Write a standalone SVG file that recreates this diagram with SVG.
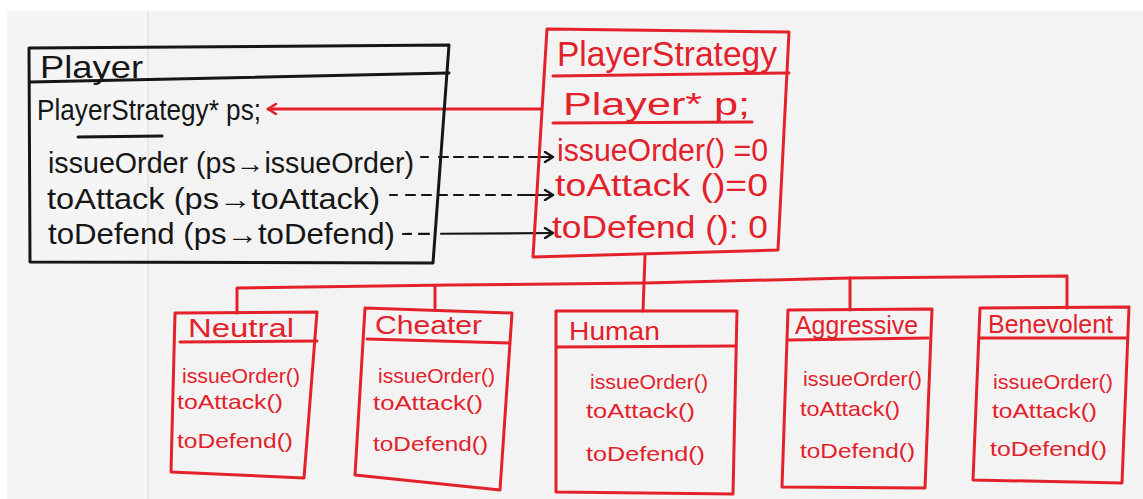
<svg xmlns="http://www.w3.org/2000/svg" width="1143" height="499" viewBox="0 0 1143 499">
<style>
.bk{fill:none;stroke:#161616;stroke-width:3;stroke-linejoin:round;stroke-linecap:round}
.rd{fill:none;stroke:#e3212b;stroke-width:3;stroke-linejoin:round;stroke-linecap:round}
.tb{font-family:"Liberation Sans","DejaVu Sans",sans-serif;fill:#161616}
.tr{font-family:"Liberation Sans","DejaVu Sans",sans-serif;fill:#e3212b}
.m{font-size:21px}
.h{font-size:26px}
</style>
<defs>
<marker id="ab" viewBox="0 0 12 12" refX="10" refY="6" markerWidth="12" markerHeight="12" markerUnits="userSpaceOnUse" orient="auto">
<path d="M2,1 L10,6 L2,11" fill="none" stroke="#161616" stroke-width="2.4" stroke-linecap="round" stroke-linejoin="round"/>
</marker>
<marker id="ar" viewBox="0 0 12 12" refX="10" refY="6" markerWidth="12" markerHeight="12" markerUnits="userSpaceOnUse" orient="auto">
<path d="M2,1 L10,6 L2,11" fill="none" stroke="#e3212b" stroke-width="2.6" stroke-linecap="round" stroke-linejoin="round"/>
</marker>
</defs>
<rect x="0" y="0" width="1143" height="499" fill="#ffffff"/>
<rect x="7" y="11" width="1136" height="488" fill="#f5f5f5"/>
<rect x="148" y="11" width="995" height="488" fill="#f3f3f3"/>
<line x1="148" y1="11" x2="148" y2="499" stroke="#e3e3e3" stroke-width="1.5"/>

<g id="connectors">
<path class="rd" d="M541,109 L268,109" marker-end="url(#ar)"/>
<path class="bk" style="stroke-width:2.2" d="M421,157 L553,157" stroke-dasharray="7 11 9 6 9 6 9 6 9 6 9 6 9 6 40" marker-end="url(#ab)"/>
<path class="bk" style="stroke-width:2.2" d="M390,195 L553,195" stroke-dasharray="7 9 9 7 9 7 9 7 9 7 9 7 9 7 9 7 40" marker-end="url(#ab)"/>
<path class="bk" style="stroke-width:2.2" d="M403,234 L553,233" stroke-dasharray="8 8 10 12 200" marker-end="url(#ab)"/>
<path class="rd" d="M237,313 L237,288 L450,285 L645,283 L850,278 L1067,276 L1067,308"/>
<path class="rd" d="M435,286 L435,308"/>
<path class="rd" d="M645,256 L643,311"/>
<path class="rd" d="M850,278 L850,310"/>
</g>

<g id="player">
<polygon class="bk" points="29,48 449,45 433,263 30,262"/>
<path class="bk" d="M30,82 L449,73"/>
<text class="tb" x="40" y="78" font-size="32" textLength="103" lengthAdjust="spacingAndGlyphs">Player</text>
<text class="tb" x="37" y="120" font-size="29" textLength="224" lengthAdjust="spacingAndGlyphs">PlayerStrategy* ps;</text>
<path class="bk" d="M78,137 L162,136"/>
<text class="tb" x="48" y="173" font-size="29" textLength="366" lengthAdjust="spacingAndGlyphs">issueOrder (ps→issueOrder)</text>
<text class="tb" x="47" y="209" font-size="29" textLength="333" lengthAdjust="spacingAndGlyphs">toAttack (ps→toAttack)</text>
<text class="tb" x="48" y="244" font-size="29" textLength="347" lengthAdjust="spacingAndGlyphs">toDefend (ps→toDefend)</text>
</g>

<g id="playerstrategy">
<polygon class="rd" points="547,29 789,32 778,250 533,257"/>
<path class="rd" d="M553,76 L789,73"/>
<text class="tr" x="557" y="66" font-size="35" textLength="220" lengthAdjust="spacingAndGlyphs">PlayerStrategy</text>
<text class="tr" x="563" y="115" font-size="31" textLength="187" lengthAdjust="spacingAndGlyphs">Player* p;</text>
<path class="rd" d="M553,123 L752,122"/>
<text class="tr" x="557" y="161" font-size="31" textLength="211" lengthAdjust="spacingAndGlyphs">issueOrder() =0</text>
<text class="tr" x="555" y="196" font-size="31" textLength="213" lengthAdjust="spacingAndGlyphs">toAttack ()=0</text>
<text class="tr" x="552" y="238" font-size="31" textLength="216" lengthAdjust="spacingAndGlyphs">toDefend ():  0</text>
</g>

<g id="neutral">
<polygon class="rd" points="175,313 317,312 304,478 171,472"/>
<path class="rd" d="M180,342 L317,341"/>
<text class="tr h" x="188" y="337" textLength="106" lengthAdjust="spacingAndGlyphs">Neutral</text>
<text class="tr m" x="182" y="383" textLength="118" lengthAdjust="spacingAndGlyphs">issueOrder()</text>
<text class="tr m" x="177" y="409" textLength="106" lengthAdjust="spacingAndGlyphs">toAttack()</text>
<text class="tr m" x="177" y="448" textLength="116" lengthAdjust="spacingAndGlyphs">toDefend()</text>
</g>

<g id="cheater">
<polygon class="rd" points="365,308 512,313 500,490 355,475"/>
<path class="rd" d="M367,339 L509,343"/>
<text class="tr h" x="375" y="334" textLength="107" lengthAdjust="spacingAndGlyphs">Cheater</text>
<text class="tr m" x="378" y="383" textLength="117" lengthAdjust="spacingAndGlyphs">issueOrder()</text>
<text class="tr m" x="373" y="410" textLength="110" lengthAdjust="spacingAndGlyphs">toAttack()</text>
<text class="tr m" x="373" y="451" textLength="115" lengthAdjust="spacingAndGlyphs">toDefend()</text>
</g>

<g id="human">
<polygon class="rd" points="556,311 737,311 733,494 556,492"/>
<path class="rd" d="M557,347 L735,346"/>
<text class="tr h" x="569" y="340" textLength="91" lengthAdjust="spacingAndGlyphs">Human</text>
<text class="tr m" x="590" y="389" textLength="118" lengthAdjust="spacingAndGlyphs">issueOrder()</text>
<text class="tr m" x="586" y="418" textLength="109" lengthAdjust="spacingAndGlyphs">toAttack()</text>
<text class="tr m" x="586" y="461" textLength="119" lengthAdjust="spacingAndGlyphs">toDefend()</text>
</g>

<g id="aggressive">
<polygon class="rd" points="788,310 932,309 925,488 782,487"/>
<path class="rd" d="M789,340 L928,338"/>
<text class="tr h" x="795" y="334" textLength="123" lengthAdjust="spacingAndGlyphs">Aggressive</text>
<text class="tr m" x="803" y="386" textLength="119" lengthAdjust="spacingAndGlyphs">issueOrder()</text>
<text class="tr m" x="800" y="416" textLength="100" lengthAdjust="spacingAndGlyphs">toAttack()</text>
<text class="tr m" x="800" y="458" textLength="115" lengthAdjust="spacingAndGlyphs">toDefend()</text>
</g>

<g id="benevolent">
<polygon class="rd" points="980,308 1129,307 1122,483 973,480"/>
<path class="rd" d="M980,338 L1126,338"/>
<text class="tr h" x="988" y="333" textLength="125" lengthAdjust="spacingAndGlyphs">Benevolent</text>
<text class="tr m" x="993" y="389" textLength="120" lengthAdjust="spacingAndGlyphs">issueOrder()</text>
<text class="tr m" x="992" y="418" textLength="105" lengthAdjust="spacingAndGlyphs">toAttack()</text>
<text class="tr m" x="990" y="456" textLength="117" lengthAdjust="spacingAndGlyphs">toDefend()</text>
</g>
</svg>
